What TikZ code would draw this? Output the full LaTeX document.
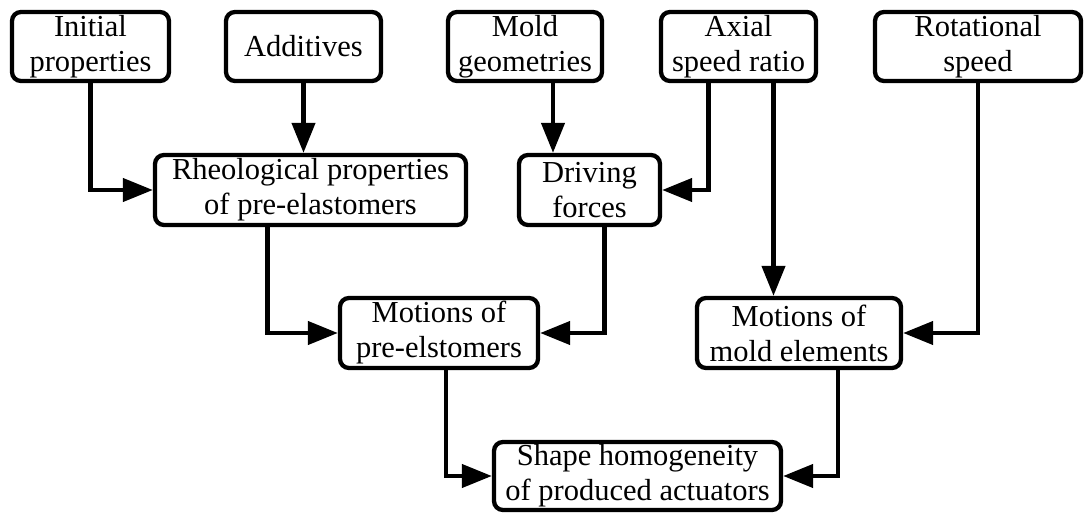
\documentclass[tikz,border=0pt]{standalone}
\usepackage{fontspec}
\setmainfont{Liberation Serif}
\newfontfamily\diagfont{Liberation Serif}
\usetikzlibrary{arrows.meta}

\begin{document}
\begin{tikzpicture}[x=1pt, y=-1pt,
        box/.style={rectangle, draw, line width=4.3pt, rounded corners=9pt, inner sep=0pt,
            minimum height=69pt, align=center, font=\diagfont\fontsize{30.5}{35}\selectfont},
        arrow/.style={-{Triangle[length=30pt,width=23pt]}, line width=4.3pt}
    ]
        \useasboundingbox (0,0) rectangle (1085,513);

        % Inputs
        \node (init) [box, minimum width=157pt] at (90.5,46.5) {Initial\\properties};
        \node (addit) [box, minimum width=155pt] at (303.5,46.5) {Additives};
        \node (mold) [box, minimum width=154pt] at (525,46.5) {Mold\\geometries};
        \node (axial) [box, minimum width=155pt] at (738.5,46.5) {Axial\\speed ratio};
        \node (rot) [box, minimum width=206pt] at (978,46.5) {Rotational\\speed};

        % Intermediate
        \node (rheo) [box, minimum width=311pt, minimum height=70pt] at (310.5,190) {Rheological properties\\of pre-elastomers};
        \node (drive) [box, minimum width=141pt, minimum height=70pt] at (589.5,190) {Driving\\forces};

        % Motions
        \node (mpre) [box, minimum width=198pt, minimum height=70pt] at (439,333) {Motions of\\pre-elstomers};
        \node (mmold) [box, minimum width=204pt, minimum height=70pt] at (799,333) {Motions of\\mold elements};

        % Result
        \node (shape) [box, minimum width=287pt, minimum height=68pt] at (637.5,476) {Shape homogeneity\\of produced actuators};

        % Into rheological properties
        \draw[arrow] (init.south) |- (rheo.west);
        \draw[arrow] (addit.south) -- (addit.south |- rheo.north);

        % Into driving forces
        \draw[arrow] ([xshift=28pt]mold.south) -- ([xshift=28pt]mold.south |- drive.north);
        \draw[arrow] ([xshift=-30pt]axial.south) |- (drive.east);

        % Into motions
        \draw[arrow] ([xshift=-43pt]rheo.south) |- (mpre.west);
        \draw[arrow] ([xshift=15pt]drive.south) |- (mpre.east);
        \draw[arrow] ([xshift=35pt]axial.south) -- ([xshift=35pt]axial.south |- mmold.north);
        \draw[arrow] (rot.south) |- (mmold.east);

        % Into shape homogeneity
        \draw[arrow] ([xshift=7pt]mpre.south) |- (shape.west);
        \draw[arrow] ([xshift=39pt]mmold.south) |- (shape.east);

    \end{tikzpicture}
\end{document}
